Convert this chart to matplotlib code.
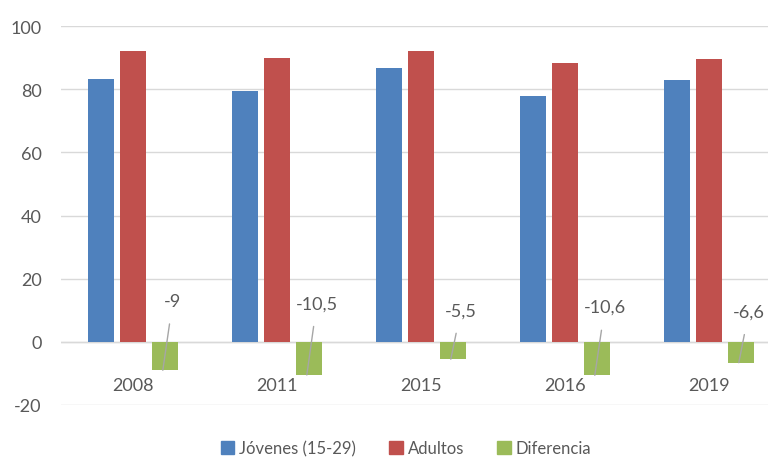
import numpy as np
import matplotlib.pyplot as plt
from matplotlib.patches import Patch

years = ['2008', '2011', '2015', '2016', '2019']
jovenes = [83.1, 79.3, 86.6, 77.8, 83.0]
adultos = [92.1, 89.8, 92.1, 88.4, 89.6]
diferencia = [-9, -10.5, -5.5, -10.6, -6.6]
dif_labels = ['-9', '-10,5', '-5,5', '-10,6', '-6,6']
# label heights (in data units) above zero for the callouts
label_y = [13.0, 12.2, 10.0, 11.0, 9.6]

c_blue = '#4F81BD'
c_red = '#C0504D'
c_green = '#9BBB59'
grey = '#595959'

plt.rcParams['font.family'] = ['Lato', 'DejaVu Sans']
plt.rcParams['axes.unicode_minus'] = False

fig = plt.figure(figsize=(7.68, 4.6), dpi=100)
# plot area runs past the right edge, as in the cropped original
ax = fig.add_axes([61/768, 1-406/460, 720/768, (406-27)/460])

x = np.arange(len(years))
w = 0.18
off = 0.222
ax.bar(x - off, jovenes, w, color=c_blue, zorder=3)
ax.bar(x, adultos, w, color=c_red, zorder=3)
ax.bar(x + off, diferencia, w, color=c_green, zorder=3)

for i in range(len(years)):
    ax.annotate(dif_labels[i], xy=(x[i] + off - 0.015, diferencia[i]),
                xytext=(x[i] + off + 0.055, label_y[i]),
                ha='center', va='center', fontsize=13, color=grey,
                arrowprops=dict(arrowstyle='-', color='#a6a6a6', lw=1,
                                shrinkA=9, shrinkB=0),
                zorder=4)

ax.set_xlim(-0.5, len(years) - 0.5)
ax.set_ylim(-20, 100)
ax.set_yticks(range(-20, 101, 20))
ax.set_xticks(x)
ax.set_xticklabels(years)
ax.tick_params(axis='both', length=0, labelsize=13, colors=grey)
ax.tick_params(axis='x', pad=-20)
ax.tick_params(axis='y', pad=14)
ax.grid(axis='y', color='#d9d9d9', lw=1, zorder=0)
for s in ax.spines.values():
    s.set_visible(False)
ax.axhline(0, color='#d9d9d9', lw=1, zorder=1)

handles = [Patch(color=c_blue, label='Jóvenes (15-29)'),
           Patch(color=c_red, label='Adultos'),
           Patch(color=c_green, label='Diferencia')]
fig.legend(handles=handles, loc='center', bbox_to_anchor=(406/768, 1-449/460),
           ncol=3, frameon=False, fontsize=12, labelcolor=grey,
           handlelength=0.8, handleheight=0.8, handletextpad=0.3,
           columnspacing=2.0)

fig.savefig('out.png', dpi=100)
